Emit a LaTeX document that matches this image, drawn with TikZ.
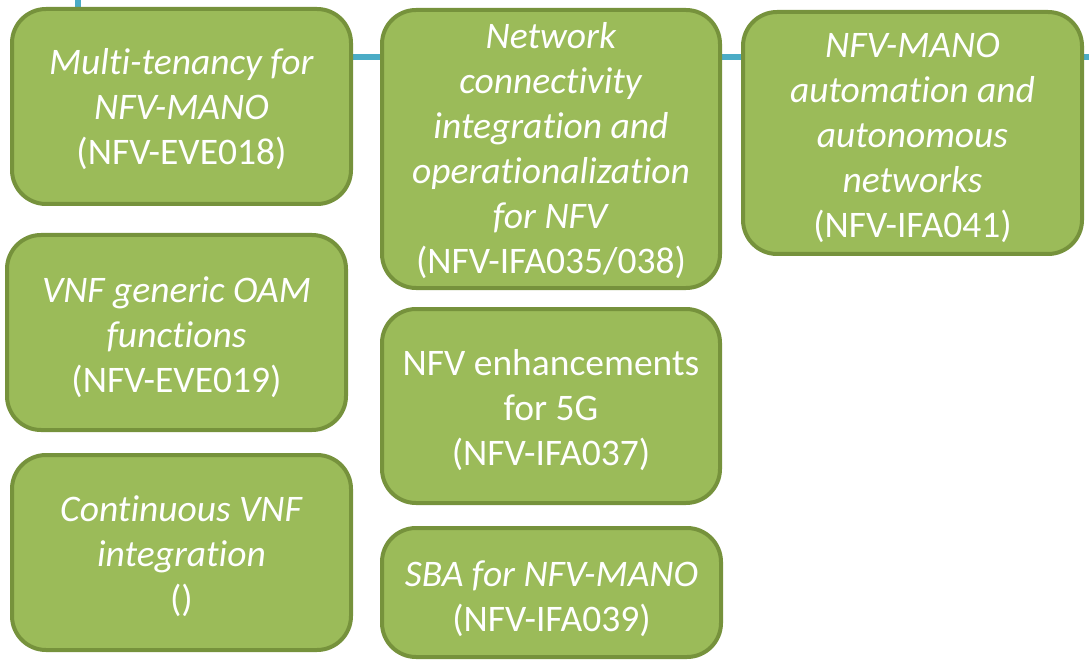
\documentclass[tikz,border=0pt]{standalone}
\usepackage{fontspec}
\setmainfont[Ligatures={NoCommon}]{Carlito}
\usetikzlibrary{backgrounds}
\definecolor{boxfill}{HTML}{9BBB59}
\definecolor{boxline}{HTML}{76923C}
\definecolor{linkblue}{HTML}{4BACC6}
\begin{document}
\begin{tikzpicture}[x=1pt,y=-1pt,
  box/.style={draw=boxline, fill=boxfill, line width=4pt, rounded corners=34pt,
    inner sep=0pt},
  txt/.style={text=white, align=center, inner sep=0pt, yshift=#1,
    font=\fontsize{37.5}{45}\selectfont},
  txt/.default=-4pt,
  link/.style={draw=linkblue, line width=6.5pt}]
\useasboundingbox (0,0) rectangle (1089,660);
\coordinate (top) at (78,0);
\coordinate (hy) at (0,57);
\coordinate (redge) at (1089,57);
% boxes
\node[box, minimum width=339pt, minimum height=195pt,
  label={[txt=-3pt]center:{\textit{Multi-tenancy for}\\\textit{NFV-MANO}\\(NFV-EVE018)}}]
  (b1) at (181.5,106.5) {};
\node[box, minimum width=338pt, minimum height=278pt,
  label={[txt=-2pt]center:{\textit{Network}\\\textit{connectivity}\\\textit{integration and}\\\textit{operationalization}\\\textit{for NFV}\\(NFV-IFA035/038)}}]
  (b2) at (551,149) {};
\node[box, minimum width=339pt, minimum height=242pt,
  label={[txt=-5pt]center:{\textit{NFV-MANO}\\\textit{automation and}\\\textit{autonomous}\\\textit{networks}\\(NFV-IFA041)}}]
  (b3) at (912.5,133) {};
\node[box, minimum width=339pt, minimum height=195pt,
  label={[txt=-5pt]center:{\textit{VNF generic OAM}\\\textit{functions}\\(NFV-EVE019)}}]
  (b4) at (176.5,332.5) {};
\node[box, minimum width=339pt, minimum height=195pt,
  label={[txt=-4pt]center:{\textit{Continuous VNF}\\\textit{integration}\\()}}]
  (b5) at (181.5,552.5) {};
\node[box, minimum width=338pt, minimum height=194pt,
  label={[txt=-4pt]center:{NFV enhancements\\for 5G\\(NFV-IFA037)}}]
  (b6) at (551,406) {};
\node[box, minimum width=339pt, minimum height=129pt,
  label={[txt=-6pt]center:{\textit{SBA for NFV-MANO}\\(NFV-IFA039)}}]
  (b7) at (551.5,592.5) {};
% links (behind boxes)
\begin{scope}[on background layer]
\draw[link] (top) -- (top |- b1.north);
\draw[link] (b1.east |- hy) -- (b2.west |- hy);
\draw[link] (b2.east |- hy) -- (b3.west |- hy);
\draw[link] (b3.east |- hy) -- (redge);
\end{scope}
\end{tikzpicture}
\end{document}
